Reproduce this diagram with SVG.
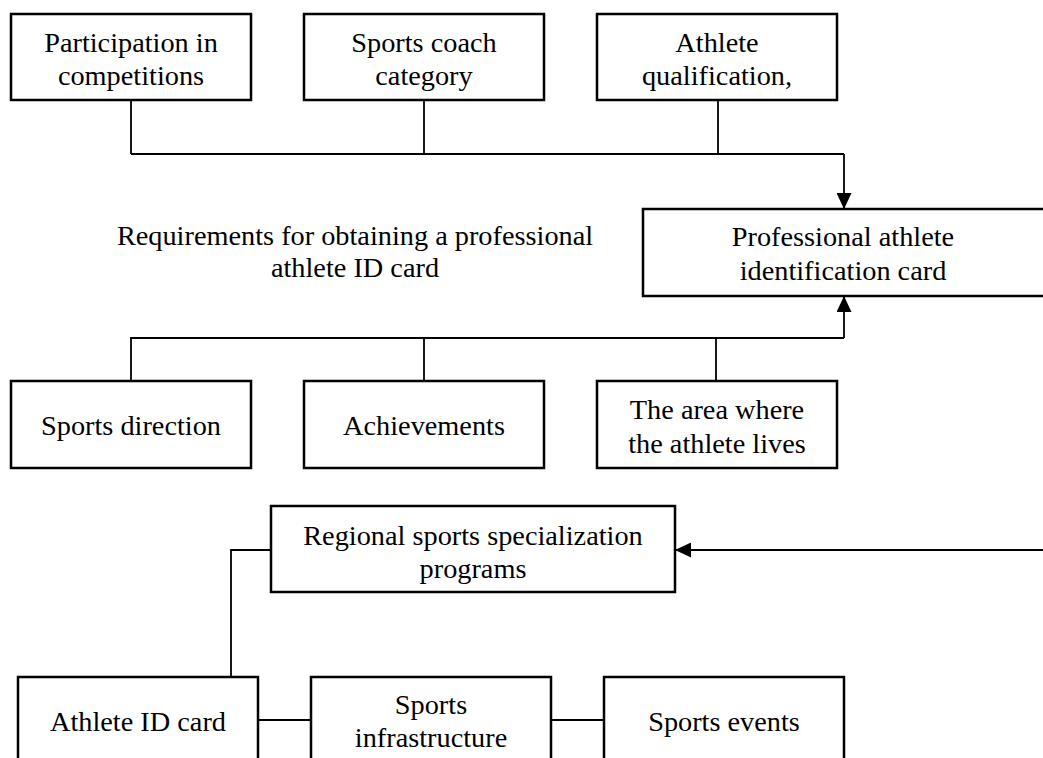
<svg xmlns="http://www.w3.org/2000/svg" width="1043" height="758" viewBox="0 0 1043 758">
<style>
.box{fill:#fff;stroke:#000;stroke-width:2.5}
.t{font-family:"Liberation Serif","Times New Roman",serif;font-size:28.3px;fill:#000;text-anchor:middle}
.c{fill:none;stroke:#000;stroke-width:1.8}
</style>
<defs>
<marker id="arr" viewBox="0 0 16 15" refX="16" refY="7.5" markerWidth="16" markerHeight="15" orient="auto" markerUnits="userSpaceOnUse">
<path d="M0,0 L16,7.5 L0,15 Z" fill="#000"/>
</marker>
</defs>
<rect width="1043" height="758" fill="#fff"/>
<g id="connectors">
<path class="c" d="M131,100 V154 M424,100 V154 M718,100 V154 M131,154 H844"/>
<path class="c" d="M844,154 V209" marker-end="url(#arr)"/>
<path class="c" d="M131,381 V338 H844 M424,381 V338 M716,381 V338"/>
<path class="c" d="M844,338 V296" marker-end="url(#arr)"/>
<path class="c" d="M1043,550 H675" marker-end="url(#arr)"/>
<path class="c" d="M271,550 H231 V677"/>
<path class="c" d="M258,720 H311 M551,720 H604"/>
</g>
<g id="n_participation"><rect class="box" x="11" y="14" width="240" height="86"/><text class="t" x="131" y="52">Participation in</text><text class="t" x="131" y="85">competitions</text></g>
<g id="n_coach"><rect class="box" x="304" y="14" width="240" height="86"/><text class="t" x="424" y="52">Sports coach</text><text class="t" x="424" y="85">category</text></g>
<g id="n_qualification"><rect class="box" x="597" y="14" width="240" height="86"/><text class="t" x="717" y="52">Athlete</text><text class="t" x="717" y="85">qualification,</text></g>
<g id="n_card"><rect class="box" x="643" y="209" width="410" height="87"/><text class="t" x="843" y="246">Professional athlete</text><text class="t" x="843" y="280">identification card</text></g>
<g id="n_label"><text class="t" x="355" y="245">Requirements for obtaining a professional</text><text class="t" x="355" y="277">athlete ID card</text></g>
<g id="n_direction"><rect class="box" x="11" y="381" width="240" height="87"/><text class="t" x="131" y="435">Sports direction</text></g>
<g id="n_achievements"><rect class="box" x="304" y="381" width="240" height="87"/><text class="t" x="424" y="435">Achievements</text></g>
<g id="n_area"><rect class="box" x="597" y="381" width="240" height="87"/><text class="t" x="717" y="419">The area where</text><text class="t" x="717" y="453">the athlete lives</text></g>
<g id="n_regional"><rect class="box" x="271" y="506" width="404" height="86"/><text class="t" x="473" y="545">Regional sports specialization</text><text class="t" x="473" y="578">programs</text></g>
<g id="n_idcard"><rect class="box" x="18" y="677" width="240" height="100"/><text class="t" x="138" y="731">Athlete ID card</text></g>
<g id="n_infra"><rect class="box" x="311" y="677" width="240" height="100"/><text class="t" x="431" y="714">Sports</text><text class="t" x="431" y="747">infrastructure</text></g>
<g id="n_events"><rect class="box" x="604" y="677" width="240" height="100"/><text class="t" x="724" y="731">Sports events</text></g>
</svg>
